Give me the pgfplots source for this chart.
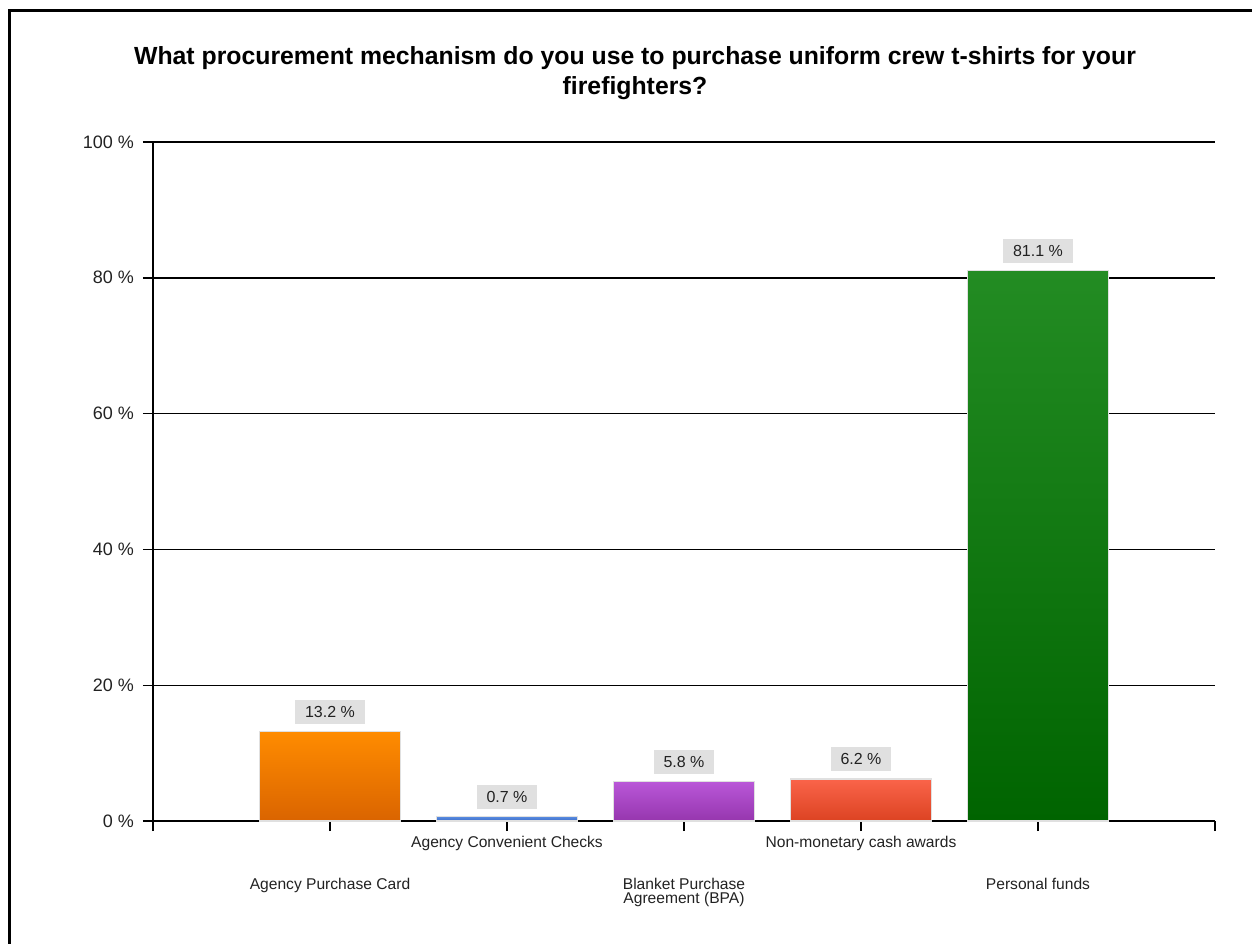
\documentclass[border=0pt]{standalone}
\usepackage{pgfplots}
\pgfplotsset{compat=1.18}
\usepackage{fontspec}
\setmainfont{Liberation Sans}
\definecolor{orT}{HTML}{FF8C00}\definecolor{orB}{HTML}{DA6400}
\definecolor{blT}{HTML}{5B8FE2}\definecolor{blB}{HTML}{3B6AC6}
\definecolor{puT}{HTML}{B957D8}\definecolor{puB}{HTML}{9636AE}
\definecolor{reT}{HTML}{FA644A}\definecolor{reB}{HTML}{DC4322}
\definecolor{grT}{HTML}{238C23}\definecolor{grB}{HTML}{006400}
\definecolor{lblbox}{HTML}{E0E0E0}
\definecolor{txt}{HTML}{222222}
\begin{document}
\begin{tikzpicture}
\useasboundingbox (-76.5pt,-61pt) rectangle (549.5pt,410.5pt);
\draw[line width=1.6pt] (-71.75pt,-62pt) -- (-71.75pt,405.25pt) -- (550pt,405.25pt);
\begin{axis}[
  at={(0pt,0pt)}, anchor=south west,
  scale only axis, width=531pt, height=339.5pt,
  xmin=0, xmax=6, ymin=0, ymax=100,
  /pgf/number format/assume math mode=true,
  axis x line*=bottom, axis y line*=left,
  axis line style={line width=0.7pt, black},
  xtick={0,1,2,3,4,5,6},
  ytick={0,20,40,60,80,100},
  tick align=outside, major tick length=5pt,
  tick style={line width=0.7pt, black},
  ymajorgrids, grid style={line width=0.7pt, black},
  yticklabel={\pgfmathprintnumber{\tick}~\%},
  yticklabel style={font=\fontsize{9}{10}\selectfont, text=txt, xshift=-1pt},
  xticklabel style={font=\fontsize{7.8}{7.2}\selectfont, text=txt, align=center, anchor=north, yshift=1pt},
  xticklabels={{}, {\mbox{}\\[19.5pt]Agency Purchase Card}, {Agency Convenient Checks}, {\mbox{}\\[19.5pt]Blanket Purchase\\Agreement (BPA)}, {Non-monetary cash awards}, {\mbox{}\\[19.5pt]Personal funds}, {}},
  title={What procurement mechanism do you use to purchase uniform crew t-shirts for your\\firefighters?},
  title style={at={(0.4539,1.084)}, anchor=center, align=center, font=\bfseries\fontsize{12.4}{15}\selectfont},
  ybar, bar width=0.8, bar shift=0pt,
  nodes near coords={\pgfmathprintnumber[fixed,fixed zerofill,precision=1]{\pgfplotspointmeta}~\%},
  every node near coord/.append style={font=\fontsize{8}{9}\selectfont, text=txt, fill=lblbox, inner xsep=5pt, inner ysep=0pt, minimum height=12pt, anchor=south, yshift=3.5pt},
  clip=false,
]
\addplot[draw=black!12, line width=0.6pt, top color=orT, bottom color=orB] coordinates {(1,13.2)};
\addplot[draw=black!12, line width=0.6pt, top color=blT, bottom color=blB] coordinates {(2,0.7)};
\addplot[draw=black!12, line width=0.6pt, top color=puT, bottom color=puB] coordinates {(3,5.8)};
\addplot[draw=black!12, line width=0.6pt, top color=reT, bottom color=reB] coordinates {(4,6.2)};
\addplot[draw=black!12, line width=0.6pt, top color=grT, bottom color=grB] coordinates {(5,81.1)};
\end{axis}
\end{tikzpicture}
\end{document}
